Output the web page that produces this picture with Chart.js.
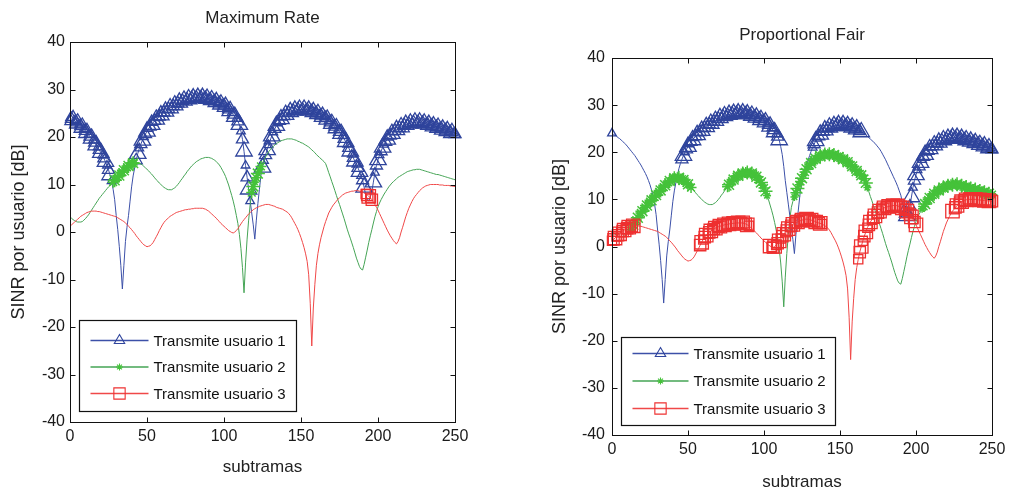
<!DOCTYPE html>
<html>
<head>
<meta charset="utf-8">
<script src="https://cdn.jsdelivr.net/npm/chart.js@4.4.0/dist/chart.umd.min.js"></script>
<style>
  body { margin: 0; background: #fff; }
  #izq { position: absolute; left: 0; top: 0; width: 500px; height: 495px; }
  #der { position: absolute; left: 500px; top: 0; width: 515px; height: 495px; }
</style>
</head>
<body>
<div id="izq"><canvas id="graficoMR"></canvas></div>
<div id="der"><canvas id="graficoPF"></canvas></div>
<script>
// SINR de cada usuario [dB], una muestra por subtrama (0..250)
const usuario1 = [
  24,23.8,23.6,23.4,23.1,22.9,22.6,22.3,22,21.7,
  21.3,20.9,20.5,20.1,19.7,19.3,18.8,18.3,17.8,17.3,
  16.7,16.1,15.5,14.8,14,13.1,12,10.7,9,6.8,
  3.5,0.5,-3,-7,-12,-7,-2,1,3.5,6.5,
  9.5,11.8,13.5,15.1,16.5,17.6,18.5,19.3,20,20.6,
  21.2,21.7,22.2,22.6,23,23.4,23.7,24,24.3,24.6,
  24.9,25.2,25.4,25.7,25.9,26.1,26.3,26.5,26.7,26.9,
  27.1,27.3,27.4,27.6,27.7,27.8,27.9,28,28.1,28.2,
  28.2,28.3,28.3,28.3,28.3,28.3,28.3,28.3,28.2,28.1,
  28,27.9,27.8,27.7,27.5,27.4,27.2,27.1,26.9,26.8,
  26.6,26.4,26.1,25.8,25.5,25.1,24.7,24.3,23.8,23.3,
  22.6,21.2,19.5,17,14,11.5,9,6.5,4,1.5,
  -1.5,2.5,6,9,12,13.6,15,16.2,17.3,18.3,
  19.3,20.2,21,21.7,22.4,22.9,23.4,23.8,24.1,24.4,
  24.7,24.9,25.1,25.3,25.4,25.5,25.6,25.7,25.8,25.8,
  25.8,25.8,25.8,25.8,25.7,25.6,25.5,25.4,25.3,25.2,
  25,24.9,24.7,24.5,24.3,24.2,24,23.7,23.4,23.1,
  22.8,22.5,22.2,21.9,21.5,21.1,20.7,20.2,19.6,19,
  18.4,17.7,17,16.3,15.6,14.9,14.2,13.5,12.7,11.8,
  10.9,9.4,7.8,7,6.5,7.3,8.5,10.5,12.5,14,
  15.2,16.2,17,17.8,18.4,19,19.5,19.9,20.3,20.7,
  21,21.3,21.5,21.7,21.9,22.1,22.3,22.5,22.6,22.7,
  22.8,22.9,23,23.1,23.1,23.1,23.1,23.1,23,23,
  22.9,22.8,22.7,22.6,22.5,22.4,22.3,22.2,22.1,22,
  21.9,21.8,21.6,21.5,21.4,21.3,21.1,21,20.9,20.8,
  20.6];
const usuario2 = [
  3.2,2.9,2.6,2.4,2.2,2.1,2.1,2.1,2.2,2.5,
  2.8,3.2,3.6,4.1,4.6,5.1,5.6,6.1,6.6,7.1,
  7.5,7.9,8.3,8.7,9.1,9.5,9.8,10.2,10.5,10.9,
  11.2,11.6,11.9,12.3,12.6,13,13.3,13.6,13.9,14.2,
  14.4,14.5,14.6,14.6,14.6,14.5,14.3,14.1,13.8,13.5,
  13.2,12.9,12.5,12.2,11.8,11.4,11,10.7,10.3,10,
  9.7,9.4,9.2,9,8.9,8.9,8.9,9.1,9.3,9.6,
  10,10.4,10.9,11.3,11.8,12.2,12.7,13.1,13.5,13.9,
  14.2,14.5,14.8,15,15.2,15.4,15.5,15.6,15.7,15.7,
  15.7,15.6,15.5,15.3,15.1,14.8,14.5,14.1,13.6,13,
  12.4,11.7,10.8,9.9,8.8,7.7,6.5,5.1,3.5,1.8,
  -0.5,-3.5,-7.5,-12.8,-6.5,-1.5,2.5,5.8,8.3,9.6,
  10.5,11.4,12.3,13.1,13.8,14.5,15.2,15.8,16.4,16.9,
  17.3,17.7,18,18.3,18.6,18.8,19,19.2,19.3,19.4,
  19.5,19.6,19.6,19.6,19.6,19.5,19.4,19.3,19.1,19,
  18.8,18.7,18.5,18.3,18.1,17.9,17.6,17.3,17,16.7,
  16.3,16,15.7,15.4,15.1,14.8,14.4,13.5,12.5,11.6,
  10.6,9.7,8.7,7.7,6.7,5.8,4.8,3.8,2.8,1.7,
  0.6,-0.4,-1.3,-2.3,-3.3,-4.4,-5.5,-6.4,-7.3,-7.8,
  -8,-6.8,-5.3,-3.8,-2.2,-0.8,0.5,1.9,3.2,4.3,
  5.3,6.1,6.8,7.4,8,8.5,9,9.5,9.9,10.3,
  10.6,10.9,11.2,11.5,11.7,11.9,12.1,12.3,12.5,12.7,
  12.8,12.9,13,13.1,13.1,13.2,13.2,13.2,13.1,13,
  12.9,12.8,12.7,12.6,12.5,12.4,12.3,12.2,12.1,12.1,
  12,11.9,11.8,11.7,11.6,11.5,11.4,11.3,11.2,11.1,
  11];
const usuario3 = [
  1.2,1.5,1.8,2.1,2.4,2.7,3,3.3,3.5,3.7,
  3.9,4.1,4.2,4.3,4.4,4.4,4.4,4.4,4.3,4.3,
  4.2,4.1,4,3.9,3.8,3.7,3.6,3.5,3.4,3.3,
  3.2,3,2.8,2.6,2.4,2.2,1.9,1.6,1.2,0.9,
  0.5,0.1,-0.3,-0.8,-1.2,-1.6,-2,-2.4,-2.7,-2.9,
  -3.1,-3,-2.9,-2.6,-2.2,-1.6,-1,-0.4,0.3,0.9,
  1.5,2,2.4,2.7,3,3.3,3.5,3.7,3.9,4.1,
  4.2,4.3,4.4,4.5,4.6,4.7,4.7,4.8,4.8,4.9,
  4.9,5,5,5,5,5,5,4.9,4.8,4.6,
  4.4,4.1,3.8,3.5,3.2,2.9,2.5,2.2,1.8,1.5,
  1.2,0.9,0.6,0.3,0.1,-0.1,-0.2,0,0.3,0.7,
  1.2,1.7,2.2,2.6,3,3.4,3.8,4.1,4.4,4.7,
  4.9,5.1,5.2,5.4,5.5,5.6,5.7,5.8,5.8,5.8,
  5.7,5.6,5.5,5.4,5.2,5.1,5,4.9,4.8,4.6,
  4.4,4.2,3.9,3.5,3,2.4,1.8,1.2,0.5,-0.3,
  -1.2,-2.2,-3.3,-4.6,-6.2,-9,-15,-24,-16,-11,
  -7,-4.5,-2.7,-1.2,0,1.2,2.2,3.1,4,4.6,
  5.2,5.7,6.1,6.5,6.9,7.2,7.5,7.8,8,8.2,
  8.3,8.4,8.5,8.6,8.6,8.7,8.7,8.7,8.6,8.5,
  8.4,8.2,8,7.8,7.5,7.2,6.8,6.3,5.8,5.2,
  4.6,3.9,3.2,2.5,1.8,1.1,0.4,-0.2,-0.8,-1.3,
  -1.8,-2.2,-2.5,-2,-1.2,0,1,2.1,3.2,4.1,
  5,5.7,6.4,7,7.5,7.9,8.3,8.7,9,9.3,
  9.5,9.7,9.8,9.9,10,10,10,10,10,10,
  9.9,9.9,9.9,9.8,9.8,9.8,9.8,9.7,9.7,9.6,
  9.6];

// subtramas en las que transmite cada usuario [desde, hasta]
const mrTx1 = [[0,27],[43,117],[125,191],[197,250]];
const mrTx2 = [[28,42],[118,124]];
const mrTx3 = [[192,196]];
const pfTx1 = [[0,0],[46,110],[132,164],[192,250]];
const pfTx2 = [[12,52],[76,102],[120,168],[204,250]];
const pfTx3 = [[0,14],[58,90],[104,138],[162,200],[224,250]];

const ticksX = [0,50,100,150,200,250];
const ticksY = [-40,-30,-20,-10,0,10,20,30,40];
const etiquetas = ['Transmite usuario 1','Transmite usuario 2','Transmite usuario 3'];

const fuente = "'Liberation Sans', Arial, Helvetica, sans-serif";
// tamaños de marca que se alternan para formar la banda densa
const estilos = [
  {linea: '#3c50a8', marca: '#2f449c', forma: 'triangle', radios: [5, 7, 9.5], rLey: 6, grosor: 1.3},
  {linea: '#45a455', marca: '#45c23a', forma: 'star', radios: [4, 5.5, 7], rLey: 3.5, grosor: 1.5},
  {linea: '#f04848', marca: '#ee3030', forma: 'rect', radios: [6.5, 8, 9.5], rLey: 8, grosor: 1.3}
];

function enTx(t, rangos) {
  return rangos.some(r => t >= r[0] && t <= r[1]);
}

function marca(ctx, forma, x, y, r) {
  ctx.beginPath();
  if (forma === 'triangle') {
    ctx.moveTo(x, y - r);
    ctx.lineTo(x + 0.866 * r, y + 0.5 * r);
    ctx.lineTo(x - 0.866 * r, y + 0.5 * r);
    ctx.closePath();
  } else if (forma === 'rect') {
    const s = r * Math.SQRT1_2;
    ctx.rect(x - s, y - s, 2 * s, 2 * s);
  } else {
    for (let k = 0; k < 4; k++) {
      const a = k * Math.PI / 4;
      ctx.moveTo(x - Math.sin(a) * r, y - Math.cos(a) * r);
      ctx.lineTo(x + Math.sin(a) * r, y + Math.cos(a) * r);
    }
  }
  ctx.stroke();
}

// caja negra con marcas hacia dentro
const marco = {
  id: 'marco',
  afterDatasetsDraw(chart) {
    const {ctx, chartArea: a, scales} = chart;
    ctx.save();
    ctx.strokeStyle = '#111';
    ctx.lineWidth = 1;
    const l = Math.round(a.left) + 0.5, r = Math.round(a.right) + 0.5;
    const t = Math.round(a.top) + 0.5, b = Math.round(a.bottom) + 0.5;
    ctx.strokeRect(l, t, r - l, b - t);
    ctx.beginPath();
    ticksX.forEach(v => {
      const px = Math.round(scales.x.getPixelForValue(v)) + 0.5;
      ctx.moveTo(px, b); ctx.lineTo(px, b - 5);
      ctx.moveTo(px, t); ctx.lineTo(px, t + 5);
    });
    ticksY.forEach(v => {
      const py = Math.round(scales.y.getPixelForValue(v)) + 0.5;
      ctx.moveTo(l, py); ctx.lineTo(l + 5, py);
      ctx.moveTo(r, py); ctx.lineTo(r - 5, py);
    });
    ctx.stroke();
    ctx.restore();
  }
};

const leyenda = {
  id: 'leyenda',
  afterDraw(chart, args, o) {
    const {ctx, chartArea: a} = chart;
    const x0 = Math.round(a.left + o.dx) + 0.5;
    const y0 = Math.round(a.bottom - o.dy - o.h) + 0.5;
    ctx.save();
    ctx.fillStyle = '#fff';
    ctx.fillRect(x0, y0, o.w, o.h);
    ctx.strokeStyle = '#111';
    ctx.lineWidth = 1.2;
    ctx.strokeRect(x0, y0, o.w, o.h);
    etiquetas.forEach((txt, k) => {
      const e = estilos[k];
      const y = y0 + o.fila0 + k * o.paso;
      ctx.strokeStyle = e.linea;
      ctx.lineWidth = 1.3;
      ctx.beginPath();
      ctx.moveTo(x0 + 11, y); ctx.lineTo(x0 + o.finLinea, y);
      ctx.stroke();
      ctx.strokeStyle = e.marca;
      ctx.lineWidth = 1.1;
      marca(ctx, e.forma, x0 + o.centro, y, e.rLey);
      ctx.fillStyle = '#111';
      ctx.font = '15px ' + fuente;
      ctx.textBaseline = 'middle';
      ctx.fillText(txt, x0 + o.texto, y + 1);
    });
    ctx.restore();
  }
};

function crearGrafico(id, titulo, tx, c) {
  const datos = [usuario1, usuario2, usuario3];
  const datasets = datos.map((serie, k) => {
    const e = estilos[k];
    return {
      label: etiquetas[k],
      data: serie.map((v, t) => ({x: t, y: v})),
      borderColor: e.linea,
      borderWidth: 1,
      backgroundColor: 'transparent',
      pointStyle: e.forma,
      // marcas solo en las subtramas donde transmite
      pointRadius: ctx => {
        const i = ctx.dataIndex;
        if (i === undefined || !enTx(i, tx[k])) return 0;
        return e.radios[i % 3];
      },
      pointHoverRadius: 0,
      pointBorderColor: e.marca,
      pointBackgroundColor: 'rgba(0,0,0,0)',
      pointBorderWidth: e.grosor,
      tension: 0,
      clip: false,
      order: 3 - k
    };
  });

  new Chart(document.getElementById(id), {
    type: 'line',
    data: {datasets},
    options: {
      responsive: true,
      maintainAspectRatio: false,
      animation: false,
      events: [],
      layout: {padding: c.pad},
      scales: {
        x: {
          type: 'linear', min: 0, max: 250,
          afterBuildTicks: s => { s.ticks = ticksX.map(v => ({value: v})); },
          afterFit: s => { s.height = c.altoX; },
          grid: {display: false, drawTicks: false},
          border: {display: false},
          ticks: {font: {size: 16, family: fuente}, color: '#1a1a1a', padding: 5, maxRotation: 0, autoSkip: false},
          title: {display: true, text: 'subtramas', font: {size: 17, family: fuente}, color: '#222', padding: {top: 0, bottom: c.pbX}}
        },
        y: {
          type: 'linear', min: -40, max: 40,
          afterBuildTicks: s => { s.ticks = ticksY.map(v => ({value: v})); },
          afterFit: s => { s.width = c.anchoY; },
          grid: {display: false, drawTicks: false},
          border: {display: false},
          ticks: {font: {size: 16, family: fuente}, color: '#1a1a1a', padding: c.padY, autoSkip: false},
          title: {display: true, text: 'SINR por usuario [dB]', font: {size: 18, family: fuente}, color: '#222', padding: {top: c.ptY, bottom: 0}}
        }
      },
      plugins: {
        legend: {display: false},
        tooltip: {enabled: false},
        title: {display: true, text: titulo, fullSize: false, color: '#222',
          font: {size: 17, family: fuente, weight: 'normal'}, padding: c.padTitulo},
        leyenda: c.leyenda
      }
    },
    plugins: [marco, leyenda]
  });
}

crearGrafico('graficoMR', 'Maximum Rate', [mrTx1, mrTx2, mrTx3], {
  pad: {left: 0, right: 45, top: 0, bottom: 0},
  altoX: 73, pbX: 17.8, anchoY: 70, padY: 5, ptY: 8,
  padTitulo: {top: 8, bottom: 13.6},
  leyenda: {dx: 9, dy: 11, w: 217, h: 91, fila0: 20, paso: 26.5, finLinea: 69, centro: 40, texto: 74}
});

crearGrafico('graficoPF', 'Proportional Fair', [pfTx1, pfTx2, pfTx3], {
  pad: {left: 40, right: 23, top: 0, bottom: 0},
  altoX: 60, pbX: 2.8, anchoY: 72, padY: 7, ptY: 9.7,
  padTitulo: {top: 25, bottom: 12.6},
  leyenda: {dx: 9, dy: 10, w: 214, h: 88, fila0: 16, paso: 27.5, finLinea: 67, centro: 39, texto: 72}
});
</script>
</body>
</html>
